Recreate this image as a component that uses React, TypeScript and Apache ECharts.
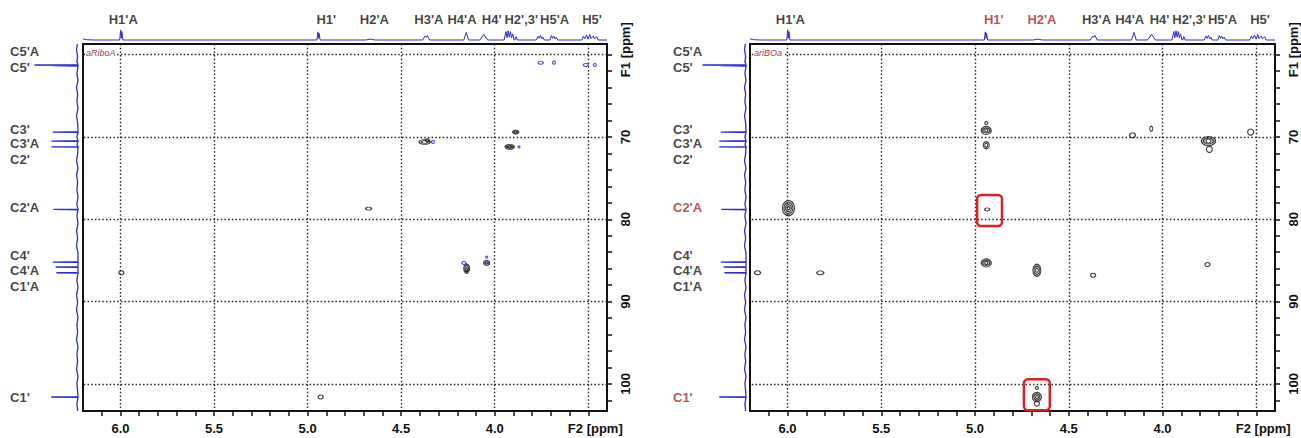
import React, { useEffect, useRef } from 'react';
import * as echarts from 'echarts';

// ---------- data ----------
const H_MIN = 3.4;
const H_MAX = 6.2;
const C_MIN = 58.7;
const C_MAX = 103.3;

const hLabelTicks = [6.0, 5.5, 5.0, 4.5, 4.0, 3.5];
const hMinorTicks = [6.1, 6.0, 5.9, 5.8, 5.7, 5.6, 5.5, 5.4, 5.3, 5.2, 5.1, 5.0, 4.9, 4.8, 4.7, 4.6, 4.5, 4.4, 4.3, 4.2, 4.1, 4.0, 3.9, 3.8, 3.7, 3.6, 3.5];
const cLabelTicks = [60, 70, 80, 90, 100];
const cMinorTicks = [60, 62, 64, 66, 68, 70, 72, 74, 76, 78, 80, 82, 84, 86, 88, 90, 92, 94, 96, 98, 100, 102];

const protonLabels = ["H1'A", "H1'", "H2'A", "H3'A", "H4'A", "H4'", "H2',3'", "H5'A", "H5'"];
const protonLabelPpm = [5.985, 4.9, 4.643, 4.352, 4.175, 4.016, 3.858, 3.68, 3.48];

const carbonLabels = ["C5'A", "C5'", "C3'", "C3'A", "C2'", "C2'A", "C4'", "C4'A", "C1'A", "C1'"];
const carbonLabelPpm = [59.67, 61.5, 69.09, 70.85, 72.79, 78.62, 84.4, 86.28, 88.22, 101.65];

// 1D proton projection [ppm, intensity]
const protonSpectrum: [number, number][] = [
  [6.2, 4], [6.18, 1], [6.14, 0],
  [6.004, 0], [5.999, 36], [5.996, 6], [5.992, 30], [5.987, 0],
  [4.95, 0], [4.945, 29], [4.942, 6], [4.938, 24], [4.933, 0],
  [4.69, 0], [4.665, 3], [4.64, 0],
  [4.385, 0], [4.372, 14], [4.366, 10], [4.36, 16], [4.348, 0],
  [4.165, 0], [4.152, 27], [4.14, 0],
  [4.08, 0], [4.058, 20], [4.038, 0],
  [3.95, 0], [3.94, 30], [3.934, 8], [3.928, 33], [3.922, 10], [3.916, 30], [3.91, 8], [3.904, 22], [3.896, 0],
  [3.892, 0], [3.886, 12], [3.879, 0],
  [3.778, 0], [3.768, 14], [3.762, 6], [3.755, 16], [3.748, 4], [3.742, 10], [3.735, 0],
  [3.705, 0], [3.697, 16], [3.691, 6], [3.684, 14], [3.678, 4], [3.671, 10], [3.664, 0],
  [3.535, 0], [3.526, 14], [3.519, 5], [3.509, 18], [3.501, 3], [3.492, 20], [3.486, 5], [3.474, 14], [3.467, 4], [3.455, 12], [3.447, 0],
  [3.4, 0],
];

// 1D carbon projection [ppm, intensity]
const carbonSpectrum: [number, number][] = [
  [58.7, 1], [59.4, 2], [60.2, 0.5], [60.9, 1.5],
  [61.2, 0], [61.25, 59], [61.3, 0], [61.33, 34], [61.38, 0],
  [62.3, 1.5], [63.1, 0], [64.0, 2], [64.8, 0.5], [65.7, 1.5], [66.5, 0], [67.4, 2], [68.3, 0.5], [69.2, 0],
  [69.36, 0], [69.4, 34], [69.44, 0], [70.0, 1.5], [70.46, 0], [70.5, 36], [70.54, 0], [70.9, 1.5], [71.16, 0], [71.2, 36], [71.24, 0],
  [72.0, 0.5], [72.9, 2], [73.8, 0], [74.6, 2], [75.5, 0.5], [76.4, 1.5], [77.3, 0], [78.2, 1.5], [78.76, 0], [78.8, 33], [78.84, 0],
  [79.6, 1.5], [80.5, 0], [81.4, 2], [82.3, 0.5], [83.2, 2], [84.1, 0], [85.16, 0], [85.2, 34], [85.24, 0], [85.76, 0], [85.8, 30], [85.84, 0], [86.46, 0], [86.5, 29], [86.54, 0],
  [87.4, 1.5], [88.3, 0], [89.2, 2], [90.1, 0.5], [91.0, 2], [91.9, 0], [92.8, 1.5], [93.7, 0.5], [94.6, 2], [95.5, 0], [96.4, 1.5], [97.3, 0.5], [98.2, 2], [99.1, 0], [100.0, 1.5], [100.9, 0.5],
  [101.56, 0], [101.6, 36], [101.64, 0], [102.4, 1.5], [103.3, 0.5],
];

// cross peaks (HSQC) [H ppm, C ppm]; contour rings drawn concentric
const leftPeaks: [number, number][] = [
  [5.995, 86.5], [4.93, 101.6],
  [4.374, 70.6], [4.374, 70.6], [4.36, 70.4],
  [3.888, 69.4], [3.888, 69.4],
  [3.92, 71.2], [3.92, 71.2], [3.92, 71.2],
  [4.674, 78.7],
  [4.15, 86.0], [4.15, 86.0], [4.15, 86.1],
  [4.043, 85.3], [4.043, 85.3],
];
const leftPeakRings: [number, number][] = [
  [5, 4], [5, 4],
  [11, 5], [6, 3], [4, 3],
  [6, 4], [3, 2],
  [9, 5], [6, 3], [3, 2],
  [6, 3],
  [6, 9], [4, 6], [2, 3],
  [6, 5], [3, 2],
];
const leftNegPeaks: [number, number][] = [
  [4.33, 70.6], [3.87, 71.2], [4.165, 85.3], [4.043, 84.6],
  [3.754, 60.97], [3.683, 60.97], [3.513, 61.25], [3.465, 61.25],
];
const leftNegRings: [number, number][] = [
  [3, 3], [2, 2], [4, 3], [2, 2],
  [5, 3], [3, 3], [5, 3], [3, 3],
];

const rightPeaks: [number, number][] = [
  [5.995, 78.65], [5.995, 78.65], [5.995, 78.65], [5.995, 78.65],
  [6.16, 86.5], [5.825, 86.5],
  [4.94, 69.2], [4.94, 69.2], [4.94, 69.2], [4.94, 68.3],
  [4.94, 71.0], [4.94, 71.0],
  [4.935, 78.8],
  [4.94, 85.3], [4.94, 85.3], [4.94, 85.3],
  [4.67, 86.2], [4.67, 86.2], [4.67, 86.2],
  [4.37, 86.8],
  [4.16, 69.8], [4.06, 69.0],
  [3.755, 70.5], [3.755, 70.5], [3.755, 70.5], [3.75, 71.5],
  [3.76, 85.5], [3.53, 69.4],
  [4.67, 101.6], [4.67, 101.6], [4.67, 101.6], [4.67, 102.4], [4.67, 100.5],
];
const rightPeakRings: [number, number][] = [
  [12, 15], [9, 11], [6, 7], [3, 3],
  [6, 4], [7, 4],
  [10, 8], [7, 5], [3, 3], [3, 3],
  [6, 7], [3, 4],
  [5, 3],
  [10, 8], [7, 5], [3, 3],
  [8, 12], [6, 8], [3, 4],
  [5, 4],
  [6, 5], [3, 5],
  [14, 9], [10, 6], [5, 4], [6, 6],
  [5, 4], [6, 6],
  [9, 9], [6, 6], [3, 3], [5, 5], [3, 3],
];

// highlighted regions [H1, C1, H2, C2]
const rightBoxes: [number, number, number, number][] = [
  [4.989, 77.06, 4.856, 80.83],
  [4.739, 99.43, 4.601, 103.2],
];
const rightRedProtons = ["H1'", "H2'A"];
const rightRedCarbons = ["C2'A", "C1'"];

// ---------- styles ----------
const FONT = 'Liberation Sans, Arial, Helvetica, sans-serif';
const INK = '#111111';
const BLUE = '#2b2bd6';
const RED = '#a8262b';
const BOX_RED = '#e01e22';
const labelFont = { fontFamily: FONT, fontWeight: 'bold' as const, fontSize: 13, color: INK };

type Panel = {
  mainLeft: number;
  mainWidth: number;
  sideLeft: number;
  sideWidth: number;
  carbonLabelX: number;
  tag: string;
  tagLeft: number;
  redProtons: string[];
  redCarbons: string[];
  peaks: [number, number][];
  rings: [number, number][];
  neg: [number, number][];
  negRings: [number, number][];
  boxes: [number, number, number, number][];
};

const MAIN_TOP = 44;
const MAIN_HEIGHT = 367;
const TOP_TOP = 12;
const TOP_HEIGHT = 28;

const panels: Panel[] = [
  {
    mainLeft: 83, mainWidth: 524, sideLeft: 5, sideWidth: 73, carbonLabelX: 93,
    tag: 'aRiboA', tagLeft: 85, redProtons: [], redCarbons: [],
    peaks: leftPeaks, rings: leftPeakRings, neg: leftNegPeaks, negRings: leftNegRings, boxes: [],
  },
  {
    mainLeft: 750, mainWidth: 525, sideLeft: 673, sideWidth: 73, carbonLabelX: 100,
    tag: 'ariBOa', tagLeft: 753, redProtons: rightRedProtons, redCarbons: rightRedCarbons,
    peaks: rightPeaks, rings: rightPeakRings, neg: [], negRings: [], boxes: rightBoxes,
  },
];

function buildOption() {
  const grid: any[] = [];
  const xAxis: any[] = [];
  const yAxis: any[] = [];
  const series: any[] = [];
  const title: any[] = [];

  panels.forEach((p, k) => {
    const g = k * 3;
    grid.push(
      { left: p.mainLeft, top: MAIN_TOP, width: p.mainWidth, height: MAIN_HEIGHT, show: true, borderColor: INK, borderWidth: 2, backgroundColor: 'transparent' },
      { left: p.mainLeft, top: TOP_TOP, width: p.mainWidth, height: TOP_HEIGHT, show: false },
      { left: p.sideLeft, top: MAIN_TOP, width: p.sideWidth, height: MAIN_HEIGHT, show: false },
    );
    xAxis.push(
      {
        gridIndex: g, type: 'value', min: H_MIN, max: H_MAX, inverse: true, position: 'bottom',
        axisLine: { show: true, onZero: false, lineStyle: { color: INK, width: 2 } },
        axisTick: { show: true, inside: false, length: 5, customValues: hMinorTicks, lineStyle: { color: INK, width: 1.5 } },
        axisLabel: {
          show: true, customValues: hLabelTicks, margin: 11, ...labelFont,
          rich: { f: { ...labelFont, padding: [0, 0, 0, 14] } },
          formatter: (v: number) => (Math.abs(v - 3.5) < 1e-6 ? '{f|F2 [ppm]}' : v.toFixed(1)),
        },
        splitLine: { show: false },
      },
      { gridIndex: g + 1, type: 'value', min: H_MIN, max: H_MAX, inverse: true, show: false },
      { gridIndex: g + 2, type: 'value', min: 0, max: 100, inverse: true, show: false },
    );
    yAxis.push(
      {
        gridIndex: g, type: 'value', min: C_MIN, max: C_MAX, inverse: true, position: 'right',
        axisLine: { show: true, onZero: false, lineStyle: { color: INK, width: 2 } },
        axisTick: { show: true, inside: false, length: 5, customValues: cMinorTicks, lineStyle: { color: INK, width: 1.5 } },
        axisLabel: {
          show: true, customValues: cLabelTicks, margin: 12, rotate: 90, ...labelFont,
          rich: { f: { ...labelFont, padding: [0, 0, 0, 10] } },
          formatter: (v: number) => (v === 60 ? '{f|F1 [ppm]}' : String(v)),
        },
        splitLine: { show: false },
      },
      { gridIndex: g + 1, type: 'value', min: 0, max: 100, show: false },
      { gridIndex: g + 2, type: 'value', min: C_MIN, max: C_MAX, inverse: true, show: false },
    );

    // proton projection
    series.push({
      type: 'line', xAxisIndex: g + 1, yAxisIndex: g + 1, data: protonSpectrum,
      showSymbol: false, silent: true, clip: false, lineStyle: { color: BLUE, width: 1 },
    });
    // proton labels
    series.push({
      type: 'scatter', xAxisIndex: g + 1, yAxisIndex: g + 1, symbol: 'circle', symbolSize: 1,
      itemStyle: { color: 'rgba(0,0,0,0)' }, silent: true, clip: false,
      label: { show: true, position: 'inside', ...labelFont, formatter: (d: any) => d.name },
      data: protonLabels.map((n, i) => ({
        name: n, value: [protonLabelPpm[i], 73],
        label: { color: p.redProtons.includes(n) ? RED : INK },
      })),
    });
    // carbon projection
    series.push({
      type: 'line', xAxisIndex: g + 2, yAxisIndex: g + 2,
      data: carbonSpectrum.map(([ppm, v]) => [v, ppm]),
      showSymbol: false, silent: true, clip: false, lineStyle: { color: BLUE, width: 1.3, join: 'round' },
    });
    // carbon labels
    series.push({
      type: 'scatter', xAxisIndex: g + 2, yAxisIndex: g + 2, symbol: 'circle', symbolSize: 1,
      itemStyle: { color: 'rgba(0,0,0,0)' }, silent: true, clip: false,
      label: { show: true, position: 'inside', align: 'left', ...labelFont, formatter: (d: any) => d.name },
      data: carbonLabels.map((n, i) => ({
        name: n, value: [p.carbonLabelX, carbonLabelPpm[i]],
        label: { color: p.redCarbons.includes(n) ? RED : INK },
      })),
    });
    // positive contours + dotted grid lines
    series.push({
      type: 'scatter', xAxisIndex: g, yAxisIndex: g, symbol: 'circle', silent: true, z: 5,
      itemStyle: { color: 'rgba(0,0,0,0)', borderColor: '#111', borderWidth: 1.2 },
      data: p.peaks.map((v, i) => ({ value: v, symbolSize: p.rings[i] })),
      markLine: {
        silent: true, symbol: ['none', 'none'], label: { show: false }, animation: false,
        lineStyle: { color: '#222', type: [1.5, 2.2], width: 1.4 },
        emphasis: { disabled: true },
        data: [
          ...hLabelTicks.map((v) => ({ xAxis: v })),
          ...cLabelTicks.map((v) => ({ yAxis: v })),
        ],
      },
    });
    if (p.neg.length) {
      series.push({
        type: 'scatter', xAxisIndex: g, yAxisIndex: g, symbol: 'circle', silent: true, z: 5,
        itemStyle: { color: 'rgba(0,0,0,0)', borderColor: BLUE, borderWidth: 1.2 },
        data: p.neg.map((v, i) => ({ value: v, symbolSize: p.negRings[i] })),
      });
    }
    if (p.boxes.length) {
      series.push({
        type: 'custom', xAxisIndex: g, yAxisIndex: g, silent: true, z: 6, clip: false,
        encode: { x: [0, 2], y: [1, 3] },
        data: p.boxes,
        renderItem: (_params: any, api: any) => {
          const a = api.coord([api.value(0), api.value(1)]);
          const b = api.coord([api.value(2), api.value(3)]);
          return {
            type: 'rect',
            shape: { x: Math.min(a[0], b[0]), y: Math.min(a[1], b[1]), width: Math.abs(b[0] - a[0]), height: Math.abs(b[1] - a[1]), r: 4 },
            style: { fill: 'none', stroke: BOX_RED, lineWidth: 2.5 },
          };
        },
      });
    }
    title.push({
      text: p.tag, left: p.tagLeft, top: 48, padding: [0, 1], backgroundColor: '#fff', z: 10,
      textStyle: { fontFamily: FONT, fontStyle: 'italic', fontWeight: 'normal', fontSize: 9, color: '#9a3a44' },
    });
  });

  return {
    animation: false,
    backgroundColor: '#ffffff',
    textStyle: { fontFamily: FONT },
    title,
    grid,
    xAxis,
    yAxis,
    series,
  };
}

export default function App() {
  const ref = useRef<HTMLDivElement>(null);
  useEffect(() => {
    if (!ref.current) return;
    const chart = echarts.init(ref.current, undefined, { renderer: 'svg' });
    chart.setOption(buildOption() as any);
    return () => chart.dispose();
  }, []);
  return <div ref={ref} style={{ position: 'fixed', left: 0, top: 0, width: 1301, height: 438, background: '#fff' }} />;
}
